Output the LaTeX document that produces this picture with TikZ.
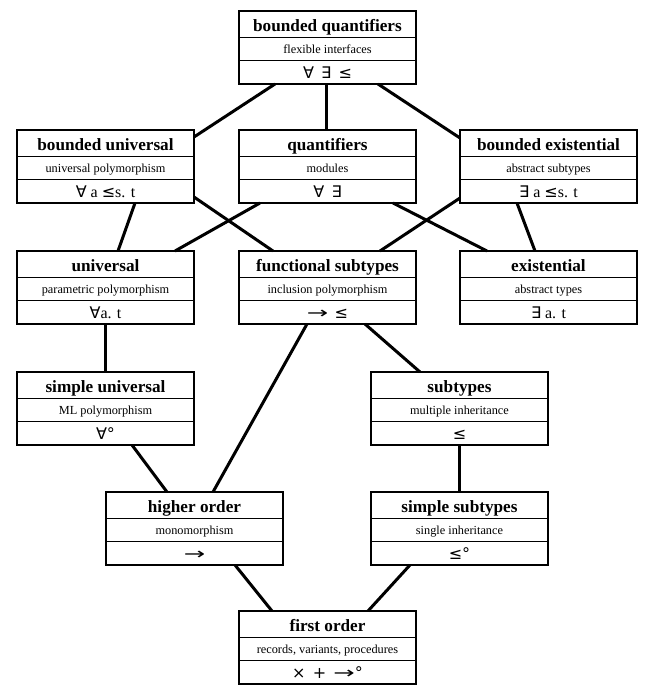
\documentclass[tikz,border=0pt]{standalone}
\usepackage{fontspec}
\setmainfont{Liberation Serif}
\newfontfamily\symf{DejaVu Sans}
\newcommand{\sy}[1]{{\symf #1}}
\newcommand{\arr}{\scalebox{1.6}[1.0]{\sy{→}}}
\tikzset{
 box/.style={draw, line width=1.3pt, minimum width=177pt, minimum height=73pt, inner sep=0pt, outer sep=0pt, anchor=north west},
 divider/.style={line width=1pt},
 ttl/.style={font=\fontsize{17.2}{17}\selectfont\bfseries, inner sep=0pt, anchor=base},
 subt/.style={font=\fontsize{12.3}{12}\selectfont, inner sep=0pt, anchor=base},
 symrow/.style={font=\fontsize{16}{16}\selectfont, inner sep=0pt, anchor=base},
 conn/.style={line width=3pt},
}
\newcommand{\tribox}[6]{%
 \node[box] (#1) at (#2,#3) {};
 \draw[divider] ([yshift=-26pt]#1.north west) -- ([yshift=-26pt]#1.north east);
 \draw[divider] ([yshift=-49pt]#1.north west) -- ([yshift=-49pt]#1.north east);
 \node[ttl] (#1-t) at ([yshift=-20pt]#1.north) {#4};
 \node[subt] (#1-s) at ([yshift=-42pt]#1.north) {#5};
 \node[symrow] (#1-y) at ([yshift=-67pt]#1.north) {#6};
}
\begin{document}
\begin{tikzpicture}[x=1pt,y=-1pt]
\fill[white] (0,0) rectangle (654,697);
\useasboundingbox (0,0) rectangle (654,697);
\tribox{bq}{239}{11}{bounded quantifiers}{flexible interfaces}{\sy{∀}\hspace{0.45em}\sy{∃}\hspace{0.45em}\sy{≤}}
\tribox{bu}{17}{130}{bounded universal}{universal polymorphism}{\sy{∀} a \sy{≤}s. t}
\tribox{q}{239}{130}{quantifiers}{modules}{\sy{∀}\hspace{0.45em}\sy{∃}}
\tribox{be}{460}{130}{bounded existential}{abstract subtypes}{\sy{∃} a \sy{≤}s. t}
\tribox{un}{17}{251}{universal}{parametric polymorphism}{\sy{∀}a. t}
\tribox{fs}{239}{251}{functional subtypes}{inclusion polymorphism}{\arr\hspace{0.4em}\sy{≤}}
\tribox{ex}{460}{251}{existential}{abstract types}{\sy{∃} a. t}
\tribox{su}{17}{372}{simple universal}{ML polymorphism}{\sy{∀°}}
\tribox{st}{371}{372}{subtypes}{multiple inheritance}{\sy{≤}}
\tribox{ho}{106}{492}{higher order}{monomorphism}{\arr}
\tribox{ss}{371}{492}{simple subtypes}{single inheritance}{\sy{≤°}}
\tribox{fo}{239}{611}{first order}{records, variants, procedures}{\sy{×}\hspace{0.45em}\sy{+}\hspace{0.45em}\arr\sy{°}}
% connectors
\draw[conn] ([xshift=36pt]bq.south west) -- ([yshift=-7pt]bu.north east);
\draw[conn] ([xshift=-1pt]bq.south) -- ([xshift=-1pt]q.north);
\draw[conn] ([xshift=139pt]bq.south west) -- ([yshift=-8pt]be.north west);
\draw[conn] ([xshift=118pt]bu.south west) -- ([xshift=101pt]un.north west);
\draw[conn] ([yshift=6pt]bu.south east) -- ([xshift=34pt]fs.north west);
\draw[conn] ([xshift=21pt]q.south west) -- ([xshift=158pt]un.north west);
\draw[conn] ([xshift=154pt]q.south west) -- ([xshift=27pt]ex.north west);
\draw[conn] ([yshift=5pt]be.south west) -- ([xshift=141pt]fs.north west);
\draw[conn] ([xshift=57pt]be.south west) -- ([xshift=75pt]ex.north west);
\draw[conn] ([xshift=88pt]un.south west) -- ([xshift=88pt]su.north west);
\draw[conn] ([xshift=68pt]fs.south west) -- ([xshift=107pt]ho.north west);
\draw[conn] ([xshift=126pt]fs.south west) -- ([xshift=49pt]st.north west);
\draw[conn] ([xshift=115pt]su.south west) -- ([xshift=61pt]ho.north west);
\draw[conn] ([xshift=88pt]st.south west) -- ([xshift=88pt]ss.north west);
\draw[conn] ([xshift=129pt]ho.south west) -- ([xshift=33pt]fo.north west);
\draw[conn] ([xshift=39pt]ss.south west) -- ([xshift=129pt]fo.north west);
\end{tikzpicture}
\end{document}
